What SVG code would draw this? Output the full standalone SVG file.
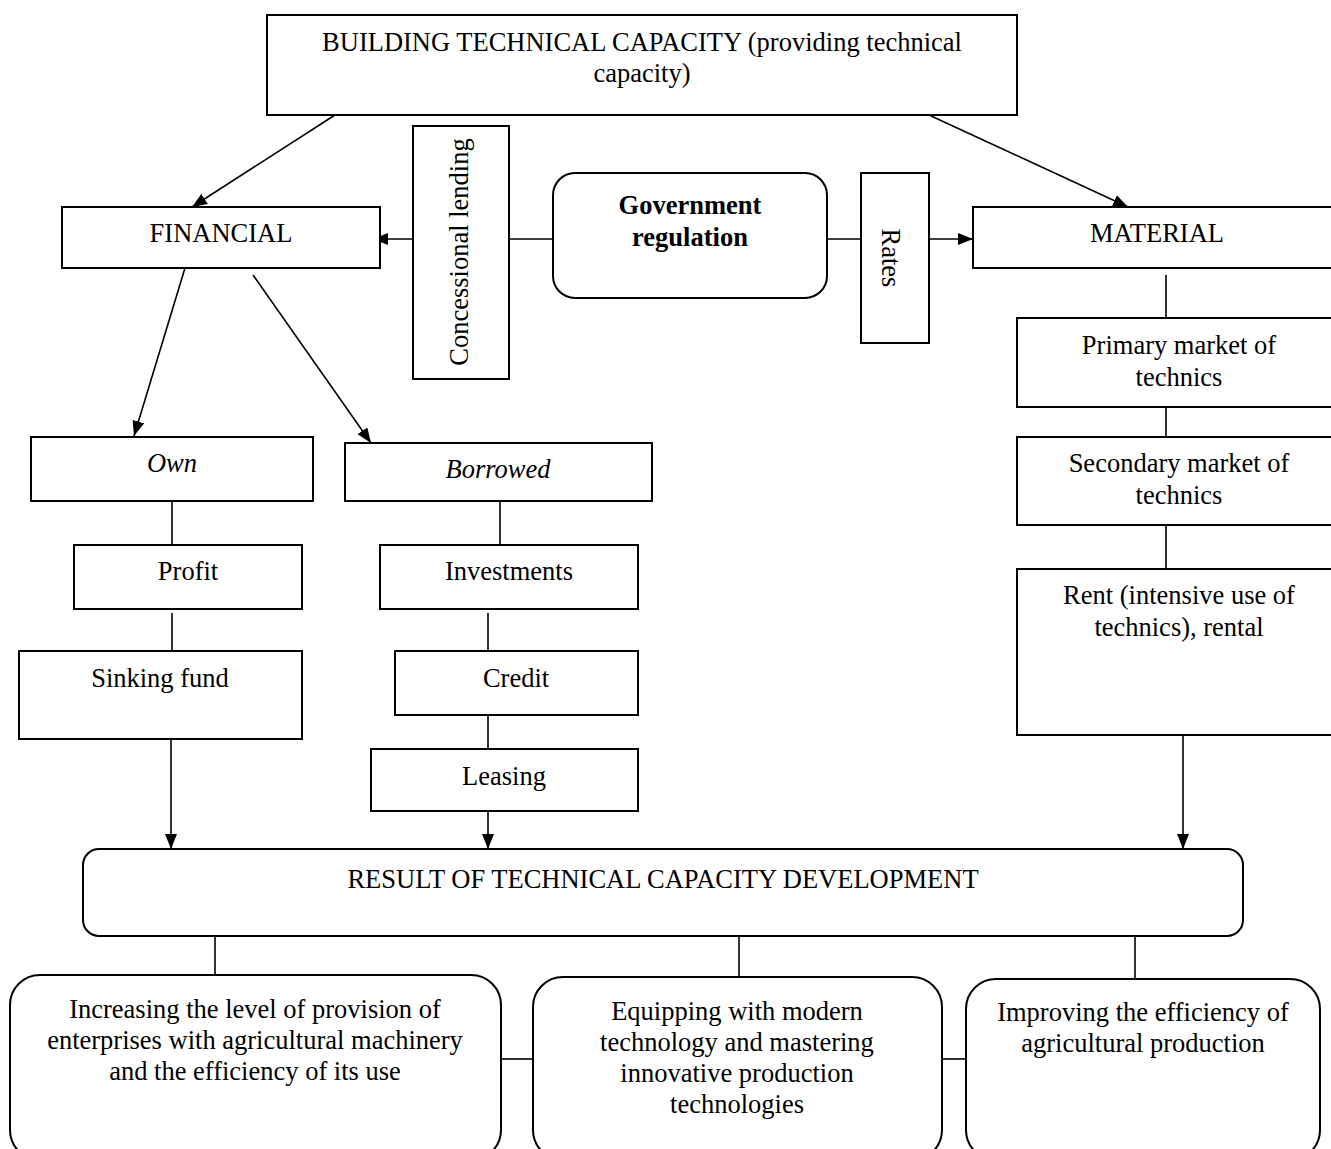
<svg xmlns="http://www.w3.org/2000/svg" width="1331" height="1149" viewBox="0 0 1331 1149">
<defs>
<style>
.box{fill:#fff;stroke:#000;stroke-width:2}
.t{font-family:"Liberation Serif","Times New Roman",serif;font-size:26.5px;fill:#000;text-anchor:middle}
.i{font-style:italic}
.b{font-weight:bold}
.c line,.c path{stroke:#000;stroke-width:1.6;fill:none}
</style>
<marker id="ah" viewBox="0 0 15 12" refX="15" refY="6" markerWidth="15" markerHeight="12" orient="auto" markerUnits="userSpaceOnUse"><path d="M0,0 L15,6 L0,12 z" fill="#000"/></marker>
</defs>
<rect width="1331" height="1149" fill="#fff"/>
<g class="c">
<line x1="335" y1="115" x2="192" y2="207" marker-end="url(#ah)"/>
<line x1="929" y1="115" x2="1128" y2="207" marker-end="url(#ah)"/>
<line x1="413" y1="239" x2="373" y2="239" marker-end="url(#ah)"/>
<line x1="509" y1="239" x2="553" y2="239"/>
<line x1="827" y1="239" x2="861" y2="239"/>
<line x1="929" y1="239" x2="973" y2="239" marker-end="url(#ah)"/>
<line x1="185" y1="268" x2="134" y2="436" marker-end="url(#ah)"/>
<line x1="253" y1="275" x2="371" y2="443" marker-end="url(#ah)"/>
<line x1="172" y1="501" x2="172" y2="545"/>
<line x1="172" y1="613" x2="172" y2="651"/>
<line x1="500" y1="501" x2="500" y2="545"/>
<line x1="488" y1="613" x2="488" y2="651"/>
<line x1="488" y1="715" x2="488" y2="749"/>
<line x1="171" y1="739" x2="171" y2="849" marker-end="url(#ah)"/>
<line x1="488" y1="811" x2="488" y2="849" marker-end="url(#ah)"/>
<line x1="1166" y1="275" x2="1166" y2="318"/>
<line x1="1166" y1="405" x2="1166" y2="443"/>
<line x1="1166" y1="525" x2="1166" y2="569"/>
<line x1="1183" y1="735" x2="1183" y2="849" marker-end="url(#ah)"/>
<line x1="215" y1="936" x2="215" y2="975"/>
<line x1="739" y1="936" x2="739" y2="977"/>
<line x1="1135" y1="936" x2="1135" y2="979"/>
<line x1="501" y1="1059" x2="533" y2="1059"/>
<line x1="942" y1="1059" x2="966" y2="1059"/>
</g>
<g id="top"><rect class="box" x="267" y="15" width="750" height="100"/>
<text class="t" x="642" y="51">BUILDING TECHNICAL CAPACITY (providing technical</text>
<text class="t" x="642" y="82">capacity)</text></g>
<g id="financial"><rect class="box" x="62" y="207" width="318" height="61"/><text class="t" x="221" y="242">FINANCIAL</text></g>
<g id="concessional"><rect class="box" x="413" y="126" width="96" height="253"/><text class="t" transform="translate(468,252) rotate(-90)">Concessional lending</text></g>
<g id="government"><rect class="box" x="553" y="173" width="274" height="125" rx="22"/><text class="t b" x="690" y="214">Government</text><text class="t b" x="690" y="246">regulation</text></g>
<g id="rates"><rect class="box" x="861" y="173" width="68" height="170"/><text class="t" transform="translate(882,258) rotate(90)">Rates</text></g>
<g id="material"><rect class="box" x="973" y="207" width="368" height="61"/><text class="t" x="1157" y="242">MATERIAL</text></g>
<g id="primary"><rect class="box" x="1017" y="318" width="324" height="89"/><text class="t" x="1179" y="354">Primary market of</text><text class="t" x="1179" y="386">technics</text></g>
<g id="secondary"><rect class="box" x="1017" y="437" width="324" height="88"/><text class="t" x="1179" y="472">Secondary market of</text><text class="t" x="1179" y="504">technics</text></g>
<g id="rent"><rect class="box" x="1017" y="569" width="324" height="166"/><text class="t" x="1179" y="604">Rent (intensive use of</text><text class="t" x="1179" y="636">technics), rental</text></g>
<g id="own"><rect class="box" x="31" y="437" width="282" height="64"/><text class="t i" x="172" y="472">Own</text></g>
<g id="borrowed"><rect class="box" x="345" y="443" width="307" height="58"/><text class="t i" x="498" y="478">Borrowed</text></g>
<g id="profit"><rect class="box" x="74" y="545" width="228" height="64"/><text class="t" x="188" y="580">Profit</text></g>
<g id="investments"><rect class="box" x="380" y="545" width="258" height="64"/><text class="t" x="509" y="580">Investments</text></g>
<g id="sinking"><rect class="box" x="19" y="651" width="283" height="88"/><text class="t" x="160" y="687">Sinking fund</text></g>
<g id="credit"><rect class="box" x="395" y="651" width="243" height="64"/><text class="t" x="516" y="687">Credit</text></g>
<g id="leasing"><rect class="box" x="371" y="749" width="267" height="62"/><text class="t" x="504" y="785">Leasing</text></g>
<g id="result"><rect class="box" x="83" y="849" width="1160" height="87" rx="16"/><text class="t" x="663" y="888">RESULT OF TECHNICAL CAPACITY DEVELOPMENT</text></g>
<g id="out1"><rect class="box" x="10" y="975" width="491" height="185" rx="30"/>
<text class="t" x="255" y="1018">Increasing the level of provision of</text>
<text class="t" x="255" y="1049">enterprises with agricultural machinery</text>
<text class="t" x="255" y="1080">and the efficiency of its use</text></g>
<g id="out2"><rect class="box" x="533" y="977" width="409" height="183" rx="30"/>
<text class="t" x="737" y="1020">Equipping with modern</text>
<text class="t" x="737" y="1051">technology and mastering</text>
<text class="t" x="737" y="1082">innovative production</text>
<text class="t" x="737" y="1113">technologies</text></g>
<g id="out3"><rect class="box" x="966" y="979" width="354" height="181" rx="30"/>
<text class="t" x="1143" y="1021">Improving the efficiency of</text>
<text class="t" x="1143" y="1052">agricultural production</text></g>
</svg>
